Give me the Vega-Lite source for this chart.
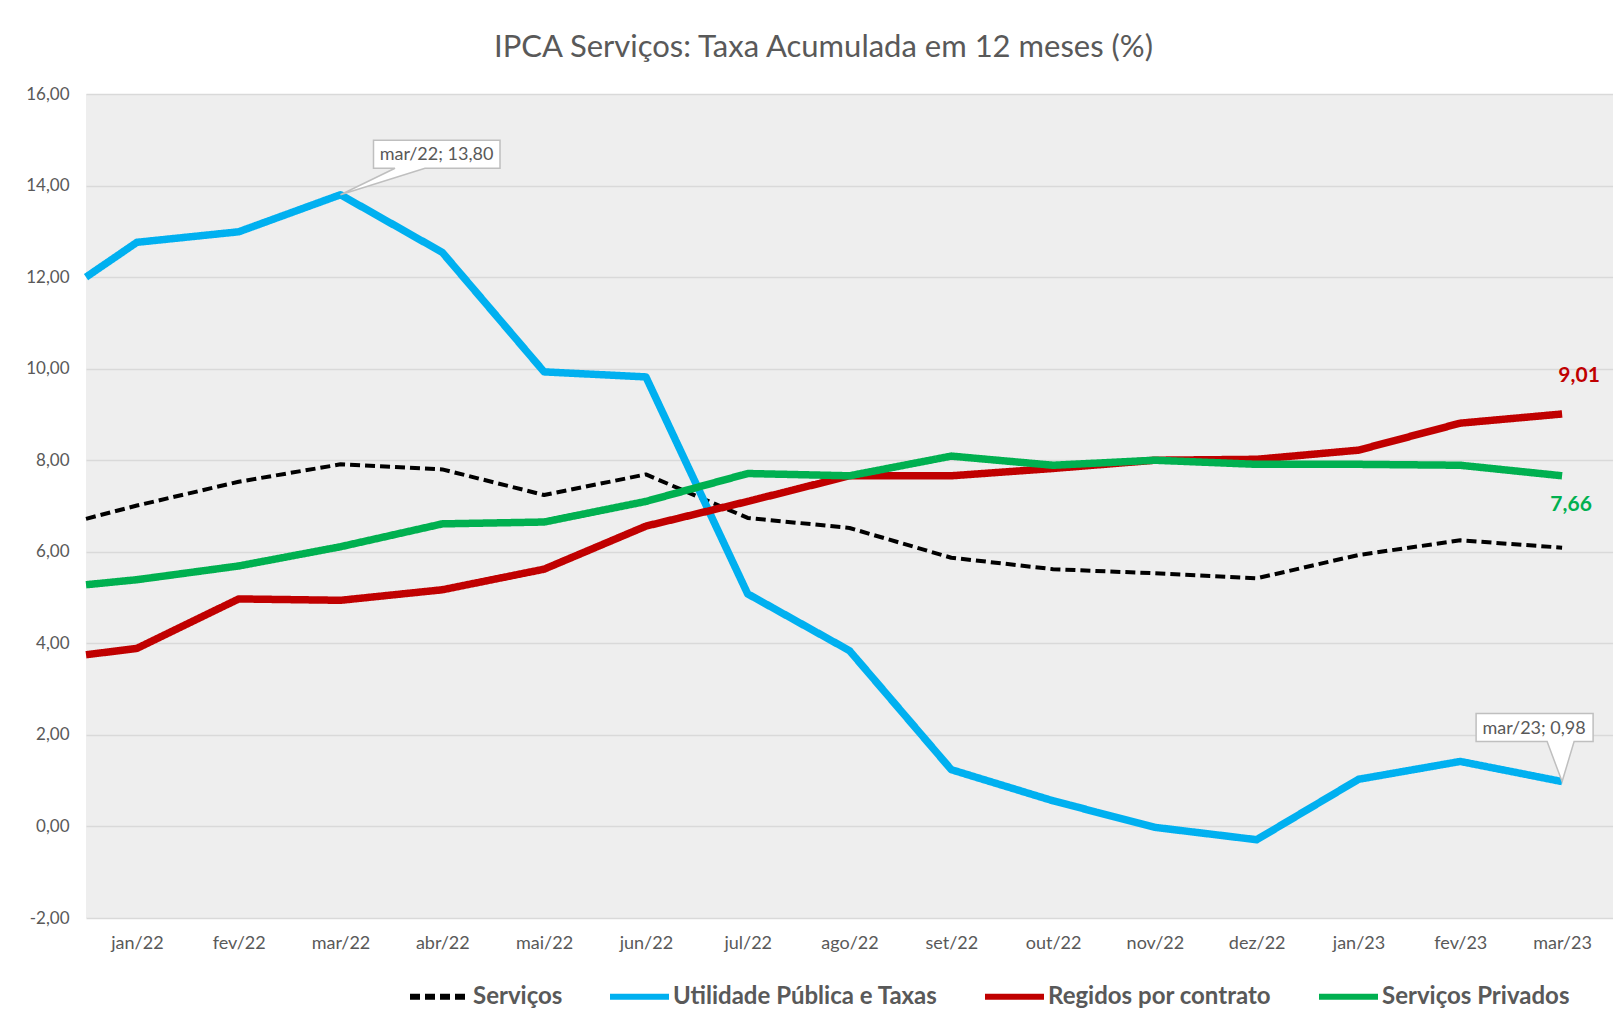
{
  "$schema": "https://vega.github.io/schema/vega-lite/v6.json",
  "width": 1527,
  "height": 824,
  "autosize": {"type": "none"},
  "padding": {"left": 86, "top": 94, "right": 0, "bottom": 100},
  "background": "white",
  "config": {
    "locale": {"number": {"decimal": ",", "thousands": ".", "grouping": [3], "currency": ["R$", ""], "minus": "-"}},
    "view": {"fill": "#eeeeee", "stroke": null},
    "font": "Lato"
  },
  "title": {
    "text": "IPCA Serviços: Taxa Acumulada em 12 meses (%)",
    "font": "Lato", "fontSize": 31, "fontWeight": "normal", "color": "#595959",
    "anchor": "middle", "frame": "group", "offset": 21, "dx": -26
  },
  "datasets": {
    "series": [
      {"mes": "início", "pos": 0.5, "serie": "Serviços", "valor": 6.72},
      {"mes": "jan/22", "pos": 1, "serie": "Serviços", "valor": 7.01},
      {"mes": "fev/22", "pos": 2, "serie": "Serviços", "valor": 7.53},
      {"mes": "mar/22", "pos": 3, "serie": "Serviços", "valor": 7.91},
      {"mes": "abr/22", "pos": 4, "serie": "Serviços", "valor": 7.80},
      {"mes": "mai/22", "pos": 5, "serie": "Serviços", "valor": 7.24},
      {"mes": "jun/22", "pos": 6, "serie": "Serviços", "valor": 7.69},
      {"mes": "jul/22", "pos": 7, "serie": "Serviços", "valor": 6.74},
      {"mes": "ago/22", "pos": 8, "serie": "Serviços", "valor": 6.52},
      {"mes": "set/22", "pos": 9, "serie": "Serviços", "valor": 5.87},
      {"mes": "out/22", "pos": 10, "serie": "Serviços", "valor": 5.62},
      {"mes": "nov/22", "pos": 11, "serie": "Serviços", "valor": 5.53},
      {"mes": "dez/22", "pos": 12, "serie": "Serviços", "valor": 5.42},
      {"mes": "jan/23", "pos": 13, "serie": "Serviços", "valor": 5.93},
      {"mes": "fev/23", "pos": 14, "serie": "Serviços", "valor": 6.25},
      {"mes": "mar/23", "pos": 15, "serie": "Serviços", "valor": 6.09},
      {"mes": "início", "pos": 0.5, "serie": "Utilidade Pública e Taxas", "valor": 12.0},
      {"mes": "jan/22", "pos": 1, "serie": "Utilidade Pública e Taxas", "valor": 12.76},
      {"mes": "fev/22", "pos": 2, "serie": "Utilidade Pública e Taxas", "valor": 12.99},
      {"mes": "mar/22", "pos": 3, "serie": "Utilidade Pública e Taxas", "valor": 13.80},
      {"mes": "abr/22", "pos": 4, "serie": "Utilidade Pública e Taxas", "valor": 12.54},
      {"mes": "mai/22", "pos": 5, "serie": "Utilidade Pública e Taxas", "valor": 9.93},
      {"mes": "jun/22", "pos": 6, "serie": "Utilidade Pública e Taxas", "valor": 9.82},
      {"mes": "jul/22", "pos": 7, "serie": "Utilidade Pública e Taxas", "valor": 5.08},
      {"mes": "ago/22", "pos": 8, "serie": "Utilidade Pública e Taxas", "valor": 3.84},
      {"mes": "set/22", "pos": 9, "serie": "Utilidade Pública e Taxas", "valor": 1.24},
      {"mes": "out/22", "pos": 10, "serie": "Utilidade Pública e Taxas", "valor": 0.56},
      {"mes": "nov/22", "pos": 11, "serie": "Utilidade Pública e Taxas", "valor": -0.02},
      {"mes": "dez/22", "pos": 12, "serie": "Utilidade Pública e Taxas", "valor": -0.29},
      {"mes": "jan/23", "pos": 13, "serie": "Utilidade Pública e Taxas", "valor": 1.03},
      {"mes": "fev/23", "pos": 14, "serie": "Utilidade Pública e Taxas", "valor": 1.42},
      {"mes": "mar/23", "pos": 15, "serie": "Utilidade Pública e Taxas", "valor": 0.98},
      {"mes": "início", "pos": 0.5, "serie": "Regidos por contrato", "valor": 3.75},
      {"mes": "jan/22", "pos": 1, "serie": "Regidos por contrato", "valor": 3.89},
      {"mes": "fev/22", "pos": 2, "serie": "Regidos por contrato", "valor": 4.97},
      {"mes": "mar/22", "pos": 3, "serie": "Regidos por contrato", "valor": 4.94},
      {"mes": "abr/22", "pos": 4, "serie": "Regidos por contrato", "valor": 5.17},
      {"mes": "mai/22", "pos": 5, "serie": "Regidos por contrato", "valor": 5.62},
      {"mes": "jun/22", "pos": 6, "serie": "Regidos por contrato", "valor": 6.56},
      {"mes": "jul/22", "pos": 7, "serie": "Regidos por contrato", "valor": 7.10},
      {"mes": "ago/22", "pos": 8, "serie": "Regidos por contrato", "valor": 7.66},
      {"mes": "set/22", "pos": 9, "serie": "Regidos por contrato", "valor": 7.66},
      {"mes": "out/22", "pos": 10, "serie": "Regidos por contrato", "valor": 7.82},
      {"mes": "nov/22", "pos": 11, "serie": "Regidos por contrato", "valor": 8.00},
      {"mes": "dez/22", "pos": 12, "serie": "Regidos por contrato", "valor": 8.02},
      {"mes": "jan/23", "pos": 13, "serie": "Regidos por contrato", "valor": 8.22},
      {"mes": "fev/23", "pos": 14, "serie": "Regidos por contrato", "valor": 8.81},
      {"mes": "mar/23", "pos": 15, "serie": "Regidos por contrato", "valor": 9.01},
      {"mes": "início", "pos": 0.5, "serie": "Serviços Privados", "valor": 5.28},
      {"mes": "jan/22", "pos": 1, "serie": "Serviços Privados", "valor": 5.39},
      {"mes": "fev/22", "pos": 2, "serie": "Serviços Privados", "valor": 5.69},
      {"mes": "mar/22", "pos": 3, "serie": "Serviços Privados", "valor": 6.11},
      {"mes": "abr/22", "pos": 4, "serie": "Serviços Privados", "valor": 6.61},
      {"mes": "mai/22", "pos": 5, "serie": "Serviços Privados", "valor": 6.65},
      {"mes": "jun/22", "pos": 6, "serie": "Serviços Privados", "valor": 7.10},
      {"mes": "jul/22", "pos": 7, "serie": "Serviços Privados", "valor": 7.71},
      {"mes": "ago/22", "pos": 8, "serie": "Serviços Privados", "valor": 7.66},
      {"mes": "set/22", "pos": 9, "serie": "Serviços Privados", "valor": 8.09},
      {"mes": "out/22", "pos": 10, "serie": "Serviços Privados", "valor": 7.89},
      {"mes": "nov/22", "pos": 11, "serie": "Serviços Privados", "valor": 8.00},
      {"mes": "dez/22", "pos": 12, "serie": "Serviços Privados", "valor": 7.91},
      {"mes": "jan/23", "pos": 13, "serie": "Serviços Privados", "valor": 7.91},
      {"mes": "fev/23", "pos": 14, "serie": "Serviços Privados", "valor": 7.89},
      {"mes": "mar/23", "pos": 15, "serie": "Serviços Privados", "valor": 7.66}
    ],
    "notas": [
      {"pos": 3, "valor": 13.80, "rotulo": "mar/22; 13,80"},
      {"pos": 15, "valor": 0.98, "rotulo": "mar/23; 0,98"}
    ],
    "finais": [
      {"pos": 15, "valor": 9.01, "serie": "Regidos por contrato", "rotulo": "9,01"},
      {"pos": 15, "valor": 7.66, "serie": "Serviços Privados", "rotulo": "7,66"}
    ]
  },
  "encoding": {
    "x": {
      "field": "pos", "type": "quantitative",
      "scale": {"domain": [0.5, 15.5], "nice": false, "zero": false},
      "axis": {
        "values": [1, 2, 3, 4, 5, 6, 7, 8, 9, 10, 11, 12, 13, 14, 15],
        "labelExpr": "['jan/22','fev/22','mar/22','abr/22','mai/22','jun/22','jul/22','ago/22','set/22','out/22','nov/22','dez/22','jan/23','fev/23','mar/23'][datum.value - 1]",
        "domain": false, "ticks": false, "grid": false, "title": null,
        "labelFont": "Lato", "labelFontSize": 18, "labelColor": "#595959",
        "labelPadding": 16, "labelFlush": false, "labelOverlap": false
      }
    },
    "y": {
      "field": "valor", "type": "quantitative",
      "scale": {"domain": [-2, 16], "nice": false, "zero": false},
      "axis": {
        "values": [-2, 0, 2, 4, 6, 8, 10, 12, 14, 16],
        "format": ".2f",
        "domain": false, "ticks": false, "grid": true,
        "gridColor": "#d9d9d9", "gridWidth": 1.5, "title": null,
        "labelFont": "Lato", "labelFontSize": 17, "labelColor": "#595959",
        "labelPadding": 17, "labelOverlap": false
      }
    }
  },
  "layer": [
    {
      "data": {"name": "series"},
      "mark": {"type": "line", "strokeJoin": "round"},
      "encoding": {
        "color": {
          "field": "serie", "type": "nominal",
          "scale": {
            "domain": ["Serviços", "Utilidade Pública e Taxas", "Regidos por contrato", "Serviços Privados"],
            "range": ["#000000", "#00b0f0", "#c00000", "#00b050"]
          },
          "legend": {
            "title": null, "orient": "none", "legendX": 321, "legendY": 870,
            "direction": "horizontal", "symbolType": "stroke", "symbolSize": 3481,
            "symbolStrokeWidth": 6, "labelFont": "Lato", "labelFontSize": 24,
            "labelFontWeight": "bold", "labelColor": "#595959", "labelOffset": 1,
            "columnPadding": 35, "padding": 0, "labelLimit": 600
          }
        },
        "strokeDash": {
          "field": "serie", "type": "nominal",
          "scale": {
            "domain": ["Serviços", "Utilidade Pública e Taxas", "Regidos por contrato", "Serviços Privados"],
            "range": [[10, 5], [1, 0], [1, 0], [1, 0]]
          },
          "legend": {
            "title": null, "orient": "none", "legendX": 321, "legendY": 870,
            "direction": "horizontal", "symbolType": "stroke", "symbolSize": 3481,
            "symbolStrokeWidth": 6, "labelFont": "Lato", "labelFontSize": 24,
            "labelFontWeight": "bold", "labelColor": "#595959", "labelOffset": 1,
            "columnPadding": 35, "padding": 0, "labelLimit": 600
          }
        },
        "strokeWidth": {
          "condition": {"test": "datum.serie === 'Serviços'", "value": 4},
          "value": 7.5
        }
      }
    },
    {
      "data": {"name": "notas"},
      "mark": {
        "type": "point", "filled": true, "fill": "white", "stroke": "#bfbfbf",
        "strokeWidth": 1.5, "size": 160000, "opacity": 1, "fillOpacity": 1, "strokeOpacity": 1
      },
      "encoding": {
        "shape": {
          "field": "rotulo", "type": "nominal",
          "scale": {
            "domain": ["mar/22; 13,80", "mar/23; 0,98"],
            "range": [
              "M0,0L0.2725,-0.1325L0.165,-0.1325L0.165,-0.2725L0.7975,-0.2725L0.7975,-0.1325L0.4225,-0.1325Z",
              "M0,0L-0.075,-0.2L-0.43,-0.2L-0.43,-0.34L0.155,-0.34L0.155,-0.2L0.06,-0.2Z"
            ]
          },
          "legend": null
        }
      }
    },
    {
      "data": {"name": "notas"},
      "transform": [{"filter": "datum.rotulo === 'mar/22; 13,80'"}],
      "mark": {"type": "text", "font": "Lato", "fontSize": 18, "color": "#595959", "align": "center", "baseline": "middle", "dx": 96, "dy": -40},
      "encoding": {"text": {"field": "rotulo"}}
    },
    {
      "data": {"name": "notas"},
      "transform": [{"filter": "datum.rotulo === 'mar/23; 0,98'"}],
      "mark": {"type": "text", "font": "Lato", "fontSize": 18, "color": "#595959", "align": "center", "baseline": "middle", "dx": -28, "dy": -53},
      "encoding": {"text": {"field": "rotulo"}}
    },
    {
      "data": {"name": "finais"},
      "transform": [{"filter": "datum.serie === 'Regidos por contrato'"}],
      "mark": {"type": "text", "font": "Lato", "fontSize": 21, "fontWeight": "bold", "color": "#c00000", "align": "center", "baseline": "middle", "dx": 17, "dy": -38},
      "encoding": {"text": {"field": "rotulo"}}
    },
    {
      "data": {"name": "finais"},
      "transform": [{"filter": "datum.serie === 'Serviços Privados'"}],
      "mark": {"type": "text", "font": "Lato", "fontSize": 21, "fontWeight": "bold", "color": "#00b050", "align": "center", "baseline": "middle", "dx": 9, "dy": 29},
      "encoding": {"text": {"field": "rotulo"}}
    }
  ]
}
